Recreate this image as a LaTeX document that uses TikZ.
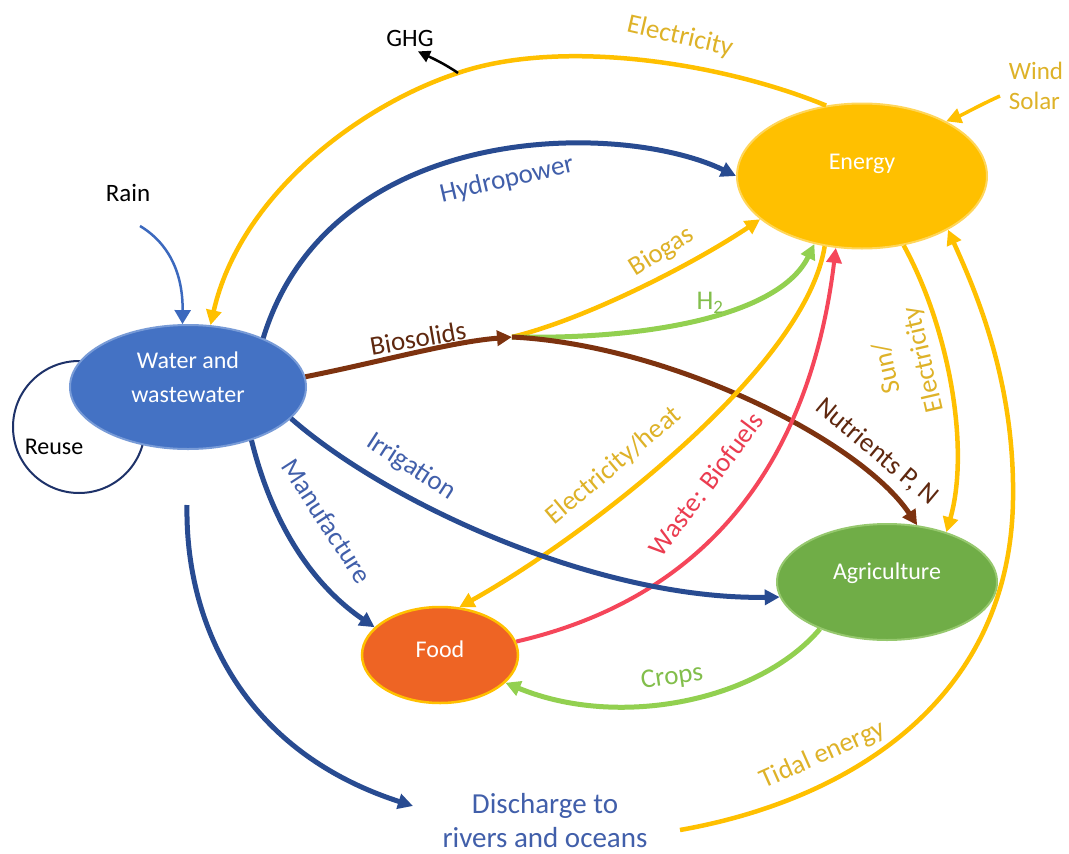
\documentclass[tikz,border=0pt]{standalone}
\usepackage{fontspec}
\setmainfont{Carlito}
\usetikzlibrary{arrows.meta,shapes.geometric}
\definecolor{waterfill}{RGB}{68,114,196}
\definecolor{waterdraw}{RGB}{120,155,215}
\definecolor{energyfill}{RGB}{255,192,0}
\definecolor{energydraw}{RGB}{255,214,90}
\definecolor{agrifill}{RGB}{112,173,71}
\definecolor{agridraw}{RGB}{150,200,110}
\definecolor{foodfill}{RGB}{238,100,36}
\definecolor{fooddraw}{RGB}{255,192,0}
\definecolor{cblue}{RGB}{40,75,145}
\definecolor{cyellow}{RGB}{255,192,0}
\definecolor{cgreen}{RGB}{146,208,80}
\definecolor{cred}{RGB}{245,70,90}
\definecolor{cbrown}{RGB}{125,50,15}
\definecolor{rainblue}{RGB}{60,105,190}
\definecolor{reusenavy}{RGB}{30,50,105}
\definecolor{tblue}{RGB}{65,95,170}
\definecolor{tyellow}{RGB}{222,178,40}
\definecolor{tgreen}{RGB}{130,190,75}
\definecolor{tred}{RGB}{235,60,80}
\definecolor{tbrown}{RGB}{95,40,15}
\tikzset{
  ellnode/.style={ellipse, inner sep=0pt, line width=2pt},
  nodetext/.style={font=\fontsize{24}{34}\selectfont, inner sep=0pt},
  lbl/.style={font=\fontsize{27}{32}\selectfont, inner sep=1pt},
  smalllbl/.style={font=\fontsize{25}{30}\selectfont, inner sep=1pt},
  tip/.style={-{Triangle[length=15pt,width=15pt]}},
  barr/.style={tip, draw=cblue, line width=5pt},
  yarr/.style={tip, draw=cyellow, line width=4.5pt},
  garr/.style={tip, draw=cgreen, line width=5pt},
  rarr/.style={tip, draw=cred, line width=4pt},
  brarr/.style={tip, draw=cbrown, line width=5pt},
  rainarr/.style={-{Triangle[length=14pt,width=16pt]}, draw=rainblue, line width=2.5pt},
  ghgarr/.style={-{Triangle[length=12pt,width=12pt]}, draw=black, line width=2.5pt},
  reuseloop/.style={draw=reusenavy, line width=2pt},
}
\begin{document}
\begin{tikzpicture}[x=1pt,y=-1pt]
\useasboundingbox (0,0) rectangle (1069,854);
\fill[white] (0,0) rectangle (1069,854);

% reuse loop (behind the water node)
\draw[reuseloop] (79,427) circle[radius=66pt];

% main nodes
\node[ellnode, fill=waterfill, draw=waterdraw, minimum width=236pt, minimum height=124pt,
      label={[nodetext, text=white, align=center, yshift=10pt]center:{Water and\\wastewater}}] (water) at (188,387) {};
\node[ellnode, fill=energyfill, draw=energydraw, minimum width=250pt, minimum height=145pt,
      label={[nodetext, text=white, yshift=12pt]center:Energy}] (energy) at (862,176) {};
\node[ellnode, fill=agrifill, draw=agridraw, minimum width=220pt, minimum height=116pt,
      label={[nodetext, text=white, yshift=9pt]center:Agriculture}] (agri) at (887,582) {};
\node[ellnode, fill=foodfill, draw=fooddraw, line width=2.5pt, minimum width=156pt, minimum height=96pt,
      label={[nodetext, text=white, yshift=6pt]center:Food}] (food) at (440,655) {};

% free text nodes
\node[smalllbl] (rain) at (128,193) {Rain};
\node[nodetext] (reuse) at (54,447) {Reuse};
\node[smalllbl] (ghg) at (410,38) {GHG};
\node[smalllbl, text=tyellow, align=left, font=\fontsize{25}{30}\selectfont] (ws) at (1036,86) {Wind\\Solar};
\node[lbl, text=tblue, align=center, font=\fontsize{29}{34}\selectfont] (disch) at (545,821) {Discharge to\\rivers and oceans};

% free ends
\coordinate (rainstart) at (140,226);
\coordinate (ghgstart) at (458,73);
\coordinate (bio) at (512,337);
\coordinate (dischstart) at (187,505);
\coordinate (dischtip) at (413,806);
\coordinate (tidalstart) at (680,830);
\coordinate (wsstart) at (1000,96);

% connectors
\draw[rainarr] (rainstart) .. controls (170,244) and (183,275) .. (water.95);
\draw[yarr] (energy.117) .. controls (720,62) and (560,38) .. (ghgstart)
            .. controls (360,105) and (240,195) .. (water.70);
\draw[ghgarr] (ghgstart) .. controls (445,64) and (432,58) .. ([xshift=8pt,yshift=-4pt]ghg.south);
\draw[barr] (water.33) .. controls (330,120) and (620,120) .. (energy.west);
\draw[brarr] (water.5) .. controls (380,362) and (450,342) .. (bio);
\draw[yarr] (bio) .. controls (590,318) and (700,260) .. (energy.203);
\draw[garr] (bio) .. controls (650,340) and (780,315) .. (energy.235);
\draw[brarr] (bio) .. controls (670,345) and (860,440) .. (agri.62);
\draw[yarr] (energy.242) .. controls (805,370) and (580,540) .. (food.68);
\draw[rarr] (food.10) .. controls (740,590) and (815,420) .. (energy.250);
\draw[barr] (water.343) .. controls (390,505) and (600,600) .. (agri.188);
\draw[barr] (water.320) .. controls (275,535) and (320,590) .. (food.157);
\draw[barr] (dischstart) .. controls (185,620) and (240,750) .. (dischtip);
\draw[garr] (agri.215) .. controls (760,700) and (620,730) .. (food.337);
\draw[yarr] (energy.301) .. controls (950,330) and (970,450) .. (agri.40);
\draw[yarr] (tidalstart) .. controls (850,800) and (1010,700) .. (1013,500)
            .. controls (1015,380) and (975,290) .. (energy.328);
\draw[yarr, line width=3.5pt] (wsstart) .. controls (980,105) and (962,115) .. (energy.33);

% connector labels
\node[lbl, text=tyellow, rotate=-13] (lelec) at (680,37) {Electricity};
\node[lbl, text=tblue, rotate=13] (lhydro) at (507,180) {Hydropower};
\node[lbl, text=tbrown, rotate=10] (lbio) at (418,338) {Biosolids};
\node[lbl, text=tyellow, rotate=32] (lbiogas) at (662,252) {Biogas};
\node[lbl, text=tgreen] (lh2) at (710,303) {H\textsubscript{2}};
\node[lbl, text=tbrown, rotate=-40] (lnutr) at (877,452) {Nutrients P, N};
\node[lbl, text=tyellow, rotate=103, align=center, font=\fontsize{27}{37}\selectfont] (lsun) at (906,364) {Sun/\\Electricity};
\node[lbl, text=tyellow, rotate=40] (lheat) at (614,466) {Electricity/heat};
\node[lbl, text=tred, rotate=53] (lwaste) at (706,484) {Waste: Biofuels};
\node[lbl, text=tblue, rotate=-33] (lirr) at (411,467) {Irrigation};
\node[lbl, text=tblue, rotate=-57] (lmanu) at (327,521) {Manufacture};
\node[lbl, text=tgreen, rotate=8] (lcrops) at (672,678) {Crops};
\node[lbl, text=tyellow, rotate=24] (ltidal) at (823,755) {Tidal energy};
\end{tikzpicture}
\end{document}
